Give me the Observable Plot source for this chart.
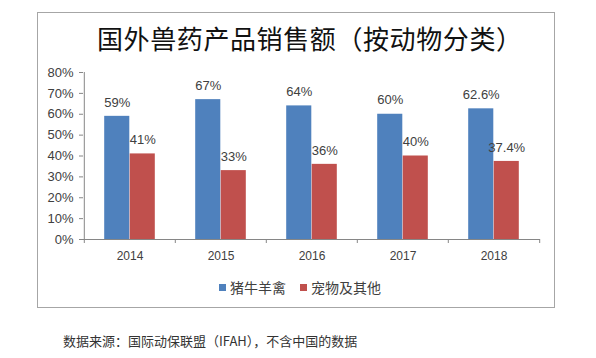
<!DOCTYPE html>
<html><head><meta charset="utf-8">
<script src="https://cdn.jsdelivr.net/npm/d3@7"></script>
<script src="https://cdn.jsdelivr.net/npm/@observablehq/plot@0.6"></script>
<style>
body{margin:0;background:#fff;width:596px;height:358px;position:relative;overflow:hidden;font-family:"Noto Sans CJK SC",sans-serif}
#box{position:absolute;left:37px;top:12px;width:518px;height:296px;border:1px solid #a6a6a6;box-sizing:border-box}
#title{position:absolute;left:97px;top:25px;font-size:26px;line-height:26px;letter-spacing:0.6px;color:#111;white-space:nowrap}
#chart{position:absolute;left:0;top:0}
#legend{position:absolute;left:219px;top:280px;height:14px;display:flex;align-items:center;font-size:14px;line-height:14px;color:#404040;white-space:nowrap}
#legend .sw{display:inline-block;width:7px;height:7px;margin-right:4px}
#legend .item{display:flex;align-items:center;margin-right:14px}
#caption{position:absolute;left:63px;top:334px;font-size:13px;line-height:13px;color:#333;white-space:nowrap}
</style>
</head><body>
<div id="box"></div>
<div id="title"></div>
<div id="chart"></div>
<div id="legend"></div>
<div id="caption"></div>
<script>
const titleText = "国外兽药产品销售额（按动物分类）";
const captionText = "数据来源：国际动保联盟（IFAH），不含中国的数据";
const years = ["2014", "2015", "2016", "2017", "2018"];
const livestock = [59, 67, 64, 60, 62.6];
const pets = [41, 33, 36, 40, 37.4];
const seriesNames = ["猪牛羊禽", "宠物及其他"];
const seriesColors = ["#4F81BD", "#C0504D"];
const yTicks = [0, 10, 20, 30, 40, 50, 60, 70, 80];

const rows = years.map((y, i) => ({year: y, livestock: livestock[i], pets: pets[i]}));

const W = 596, H = 270, mL = 83, mR = 56, mT = 72, mB = 31;
const step = (W - mL - mR) / years.length;
const half = 25.5;
const axisColor = "#868686";
const textColor = "#404040";
const numFont = "'Liberation Sans', Arial, sans-serif";

const chart = Plot.plot({
  width: W, height: H,
  marginLeft: mL, marginRight: mR, marginTop: mT, marginBottom: mB,
  x: {type: "band", domain: years, padding: 0, axis: null, label: null},
  y: {domain: [0, 80], axis: null, label: null},
  style: {fontFamily: numFont, fontSize: "12px", color: textColor, background: "transparent", overflow: "visible"},
  marks: [
    Plot.barY(rows, {x: "year", y: "livestock", fill: seriesColors[0], insetLeft: step / 2 - half, insetRight: step / 2}),
    Plot.barY(rows, {x: "year", y: "pets", fill: seriesColors[1], insetLeft: step / 2, insetRight: step / 2 - half}),
    Plot.text(rows, {x: "year", y: "livestock", text: d => d.livestock + "%", dx: -half / 2, dy: -14, fontSize: 13, fill: textColor}),
    Plot.text(rows, {x: "year", y: "pets", text: d => d.pets + "%", dx: half / 2, dy: -14, fontSize: 13, fill: textColor}),
    Plot.ruleY([0], {stroke: axisColor}),
    Plot.ruleX([years[0]], {dx: -step / 2, y1: 0, y2: 80, stroke: axisColor}),
    Plot.axisY({ticks: yTicks, tickSize: 4, tickPadding: 6, tickFormat: d => d + "%", stroke: axisColor, fill: textColor, fontSize: 13}),
    Plot.axisX({tickSize: 0, tickPadding: 12, fontSize: 12, fill: textColor}),
    Plot.axisX({tickSize: 4, dx: -step / 2, tickFormat: () => "", stroke: axisColor}),
    Plot.axisX({ticks: [years[years.length - 1]], tickSize: 4, dx: step / 2, tickFormat: () => "", stroke: axisColor})
  ]
});
document.getElementById("chart").appendChild(chart);
document.getElementById("title").textContent = titleText;
document.getElementById("caption").textContent = captionText;
const legend = document.getElementById("legend");
seriesNames.forEach((name, i) => {
  const item = document.createElement("span");
  item.className = "item";
  const sw = document.createElement("span");
  sw.className = "sw";
  sw.style.background = seriesColors[i];
  item.appendChild(sw);
  item.appendChild(document.createTextNode(name));
  legend.appendChild(item);
});
</script>
</body></html>
